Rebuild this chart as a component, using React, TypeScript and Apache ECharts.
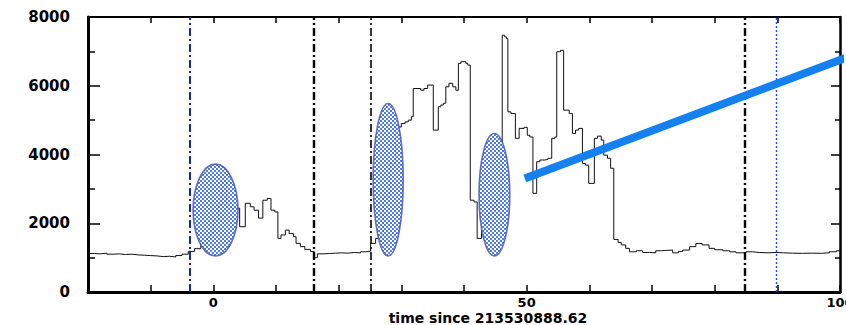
import { useEffect, useRef } from "react";
import * as echarts from "echarts";

// Step light curve: left edge of each bin (time) and its count level
const binStart = [
  -20, -19, -18, -17, -16, -15, -14, -13, -12, -11, -10, -9, -8, -7, -6, -5, -4, -3, -2, -1,
  -0.5, 0, 0.8, 1.4, 2.1, 3.0, 4.2, 5.1, 5.9, 6.5, 7.2, 7.9, 8.6, 9.2, 9.8, 10.3, 10.8, 11.5,
  12.1, 12.8, 13.2, 13.9, 14.6, 15.5, 16.1, 16.6, 17.5, 18.5, 19.5, 20.5, 21.5, 22.5, 23.5,
  24.3, 25.1, 25.9, 26.8, 27.1, 28.2, 29.1, 30, 30.6, 31.1, 31.6, 31.9, 33.1, 33.6, 34.2, 35.1,
  35.9, 36.3, 36.7, 37.1, 37.6, 38.2, 38.7, 39.1, 39.5, 40.3, 40.6, 41, 41.6, 42.1, 42.8, 43.3,
  43.9, 44.6, 45.2, 45.7, 46.1, 46.5, 46.8, 47, 47.5, 48.2, 48.8, 49.6, 50.1, 50.5, 51, 51.6,
  52.1, 52.9, 53.4, 54, 54.5, 54.8, 55.4, 55.9, 56.8, 57.3, 57.8, 58.3, 58.9, 59.4, 59.9, 60.8,
  61.3, 61.9, 62.3, 62.9, 63.4, 63.9, 64.6, 65.1, 65.8, 66.4, 67.5, 68.5, 69.6, 70.6, 71.5,
  72.2, 73.3, 74.2, 74.9, 76, 77, 78, 79.1, 80, 81.3, 82.4, 83.4, 85, 86, 87.1, 88.5, 89.8, 91,
  92.4, 94, 95.6, 97, 98.3, 99.4, 100,
];
const binCounts = [
  1120, 1110, 1130, 1100, 1110, 1090, 1100, 1080, 1070, 1060, 1050, 1030, 1040, 1020, 1060, 1100, 1180, 1260, 1420, 1550,
  1720, 2090, 2530, 3200, 2470, 2440, 1900, 2580, 2480, 2380, 2150, 2670, 2720, 2380, 2330, 1560, 1660, 1800,
  1700, 1610, 1415, 1320, 1240, 1180, 1000, 1110, 1120, 1130, 1140, 1130, 1150, 1140, 1170,
  1190, 1415, 1560, 1705, 2770, 3740, 4800, 4900, 4950, 5000, 5100, 5920, 5870, 5920, 6020, 4710,
  5390, 5440, 5490, 5970, 6070, 5970, 5870, 6650, 6700, 6650, 6600, 2670, 2620, 1560, 1800, 2000,
  2290, 2480, 2670, 2770, 7470, 7420, 7370, 5240, 5190, 4470, 4760, 4790, 4560, 4510, 2870, 3790,
  3840, 3860, 3890, 4470, 4510, 6990, 7030, 5290, 5190, 4610, 4710, 4760, 3740, 3690, 3160, 4470,
  4535, 4420, 3980, 3890, 3600, 1530, 1440, 1370, 1270, 1170, 1200, 1150, 1140, 1200, 1210,
  1220, 1140, 1180, 1220, 1320, 1410, 1370, 1270, 1230, 1200, 1170, 1140, 1170, 1150, 1140, 1150, 1140, 1130,
  1125, 1130, 1125, 1140, 1170, 1200, 1200,
];

// Vertical markers (time)
const markerBlueDashDot = [-3.8];
const markerBlackDashDot = [16.1, 25.1, 84.8];
const markerBlueDotted = [89.8];

// Highlight ellipses (data units)
const ellipseCenterX = [0.35, 27.9, 44.85];
const ellipseCenterY = [2384, 3266, 2830];
const ellipseHalfWidth = [3.58, 2.4, 2.45];
const ellipseHalfHeight = [1337, 2219, 1783];

// Trend line
const trendX = [49.7, 101.2];
const trendY = [3305, 6830];

// Axes
const xLabelValues = [0, 50, 100];
const xAxisTitle = "time since 213530888.62";

const FONT = "DejaVu Sans";

function makeChecker(): string {
  const c = document.createElement("canvas");
  c.width = 4;
  c.height = 4;
  const g = c.getContext("2d")!;
  g.fillStyle = "#ffffff";
  g.fillRect(0, 0, 4, 4);
  g.fillStyle = "#3a6cf0";
  g.fillRect(0, 0, 2, 2);
  g.fillRect(2, 2, 2, 2);
  return c.toDataURL();
}

export default function App() {
  const ref = useRef<HTMLDivElement>(null);

  useEffect(() => {
    if (!ref.current) return;
    const chart = echarts.init(ref.current, null, { renderer: "svg" });
    const checker = { image: makeChecker(), repeat: "repeat", imageWidth: 4, imageHeight: 4 };

    const labelStyle = { fontSize: 13, fontWeight: "bold", fontFamily: FONT, color: "#000" };

    const dashDot = [8, 3, 2, 3];
    const markData: any[] = [
      ...markerBlueDashDot.map((v) => ({ xAxis: v, lineStyle: { color: "#1a2a9a", width: 2, type: dashDot } })),
      ...markerBlackDashDot.map((v, i) => ({
        xAxis: v,
        lineStyle: { color: "#000", width: i === 1 ? 1.6 : 2.4, type: dashDot },
      })),
      ...markerBlueDotted.map((v) => ({ xAxis: v, lineStyle: { color: "#2244ff", width: 1.4, type: [2, 2] } })),
    ];

    const tickLine = { color: "#000", width: 1.5 };

    const option: any = {
      animation: false,
      backgroundColor: "#fff",
      grid: { left: 88, right: 6, top: 17, bottom: 33, containLabel: false, outerBoundsMode: "none" },
      xAxis: [
        {
          type: "value",
          position: "bottom",
          min: -20,
          max: 100,
          interval: 10,
          axisLine: { show: true, onZero: false, lineStyle: { color: "#000", width: 3 } },
          axisTick: { show: true, inside: true, length: 7, lineStyle: tickLine },
          axisLabel: { ...labelStyle, customValues: xLabelValues, margin: 4, showMaxLabel: true },
          splitLine: { show: false },
          name: xAxisTitle,
          nameLocation: "middle",
          nameGap: 19,
          nameMoveOverlap: false,
          nameTextStyle: { ...labelStyle, fontSize: 14, padding: [0, 0, 0, 48] },
        },
        {
          type: "value",
          position: "top",
          min: -20,
          max: 100,
          interval: 10,
          axisLine: { show: true, onZero: false, lineStyle: { color: "#000", width: 2 } },
          axisTick: { show: true, inside: true, length: 6, lineStyle: tickLine },
          axisLabel: { show: false },
          splitLine: { show: false },
        },
      ],
      yAxis: [
        {
          type: "value",
          position: "left",
          min: 0,
          max: 8000,
          interval: 2000,
          axisLine: { show: true, onZero: false, lineStyle: { color: "#000", width: 3 } },
          axisTick: { show: true, inside: true, length: 12, lineStyle: tickLine },
          minorTick: { show: true, splitNumber: 2, length: 7, lineStyle: tickLine },
          axisLabel: { ...labelStyle, fontSize: 15, margin: 18, formatter: (v: number) => String(v) },
          splitLine: { show: false },
          minorSplitLine: { show: false },
        },
        {
          type: "value",
          position: "right",
          min: 0,
          max: 8000,
          interval: 2000,
          axisLine: { show: true, onZero: false, lineStyle: { color: "#000", width: 2.5 } },
          axisTick: { show: true, inside: true, length: 9, lineStyle: tickLine },
          minorTick: { show: true, splitNumber: 2, length: 5, lineStyle: tickLine },
          axisLabel: { show: false },
          splitLine: { show: false },
          minorSplitLine: { show: false },
        },
      ],
      series: [
        {
          type: "line",
          xAxisIndex: 0,
          yAxisIndex: 0,
          step: "end",
          symbol: "none",
          data: binStart.map((t, i) => [t, binCounts[i]]),
          lineStyle: { color: "#111", width: 1 },
          z: 2,
          markLine: {
            silent: true,
            symbol: ["none", "none"],
            label: { show: false },
            data: markData,
          },
        },
        {
          type: "custom",
          xAxisIndex: 0,
          yAxisIndex: 0,
          z: 3,
          data: ellipseCenterX.map((x, i) => [x, ellipseCenterY[i], ellipseHalfWidth[i], ellipseHalfHeight[i]]),
          renderItem: (_params: any, api: any) => {
            const c = api.coord([api.value(0), api.value(1)]);
            const s = api.size([api.value(2), api.value(3)]);
            return {
              type: "ellipse",
              shape: { cx: c[0], cy: c[1], rx: s[0], ry: s[1] },
              style: { fill: checker, stroke: "#5060b0", lineWidth: 1.6, opacity: 0.9 },
            };
          },
        },
        {
          type: "line",
          xAxisIndex: 0,
          yAxisIndex: 0,
          symbol: "none",
          clip: false,
          z: 5,
          data: trendX.map((x, i) => [x, trendY[i]]),
          lineStyle: { color: "#1580f0", width: 8, cap: "butt" },
        },
      ],
    };

    chart.setOption(option);
    return () => chart.dispose();
  }, []);

  return (
    <div
      ref={ref}
      style={{ position: "fixed", left: 0, top: 0, width: 846, height: 325, background: "#fff" }}
    />
  );
}
